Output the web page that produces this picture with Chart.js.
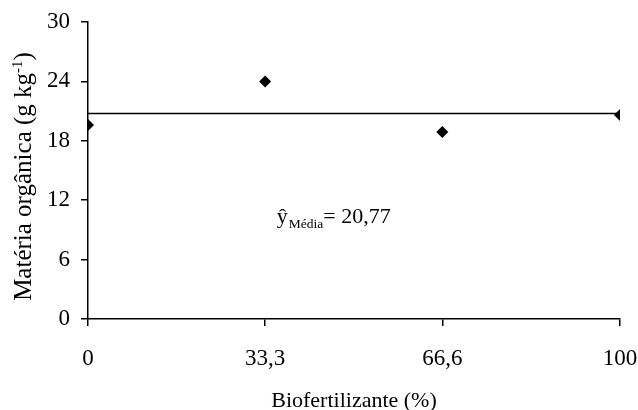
<!DOCTYPE html>
<html>
<head>
<meta charset="utf-8">
<script src="https://cdn.jsdelivr.net/npm/chart.js@4.4.1/dist/chart.umd.min.js"></script>
<style>
  html, body { margin: 0; padding: 0; background: #ffffff; }
  #wrap { width: 638px; height: 410px; }
</style>
</head>
<body>
<div id="wrap"><canvas id="c" width="638" height="410"></canvas></div>
<script>
// Biofertilizer doses (%) and measured organic matter (g kg-1)
const doses = [0, 33.3, 66.6, 100];
const organicMatter = [19.6, 24.0, 18.9, 20.6];
const meanValue = 20.77;
const xTicks = [0, 33.3, 66.6, 100];
const yTicks = [0, 6, 12, 18, 24, 30];

const FONT = "'Liberation Serif', 'Times New Roman', serif";

const points = doses.map((d, i) => ({ x: d, y: organicMatter[i] }));
const meanLine = [{ x: doses[0], y: meanValue }, { x: doses[doses.length - 1], y: meanValue }];

const fmt = v => String(v).replace('.', ',');

// Axis titles and the mean equation, drawn with sub/superscripts
const textPlugin = {
  id: 'textPlugin',
  afterDraw(chart) {
    const { ctx, chartArea, scales } = chart;
    ctx.save();
    ctx.fillStyle = '#000';
    ctx.textBaseline = 'alphabetic';

    // x title
    ctx.font = `22px ${FONT}`;
    ctx.textAlign = 'center';
    ctx.fillText('Biofertilizante (%)', (chartArea.left + chartArea.right) / 2, 407);

    // y title with superscript
    const main = 'Matéria orgânica (g kg';
    const sup = '-1';
    const close = ')';
    ctx.font = `25px ${FONT}`;
    const wMain = ctx.measureText(main).width;
    const wClose = ctx.measureText(close).width;
    ctx.font = `15px ${FONT}`;
    const wSup = ctx.measureText(sup).width;
    const total = wMain + wSup + wClose;
    ctx.translate(31, (chartArea.top + chartArea.bottom) / 2 + 6);
    ctx.rotate(-Math.PI / 2);
    ctx.textAlign = 'left';
    const x0 = -total / 2;
    ctx.font = `25px ${FONT}`;
    ctx.fillText(main, x0, 0);
    ctx.font = `15px ${FONT}`;
    ctx.fillText(sup, x0 + wMain, -9);
    ctx.font = `25px ${FONT}`;
    ctx.fillText(close, x0 + wMain + wSup, 0);
    ctx.setTransform(1, 0, 0, 1, 0, 0);

    // mean equation
    const ex = scales.x.getPixelForValue(35.5);
    const ey = scales.y.getPixelForValue(9.7);
    ctx.textAlign = 'left';
    ctx.font = `22px ${FONT}`;
    ctx.fillText('ŷ', ex, ey);
    const wy = ctx.measureText('ŷ').width;
    ctx.font = `13.5px ${FONT}`;
    ctx.fillText('Média', ex + wy + 1, ey + 5);
    const wm = ctx.measureText('Média').width;
    ctx.font = `22px ${FONT}`;
    ctx.fillText('= ' + fmt(meanValue), ex + wy + 1 + wm, ey);
    ctx.restore();
  }
};

new Chart(document.getElementById('c'), {
  type: 'scatter',
  data: {
    datasets: [
      {
        type: 'line',
        data: meanLine,
        borderColor: '#000',
        borderWidth: 1.5,
        pointRadius: 0,
        fill: false
      },
      {
        data: points,
        pointStyle: 'rectRot',
        pointRadius: 6,
        backgroundColor: '#000',
        borderColor: '#000',
        borderWidth: 0
      }
    ]
  },
  options: {
    responsive: false,
    animation: false,
    layout: { padding: { left: 0, right: 18, top: 22, bottom: 0 } },
    plugins: { legend: { display: false }, tooltip: { enabled: false } },
    scales: {
      x: {
        type: 'linear',
        min: 0,
        max: 100,
        afterBuildTicks: s => { s.ticks = xTicks.map(v => ({ value: v })); },
        afterFit: s => { s.height = 91; s.paddingLeft = 0; s.paddingRight = 0; },
        ticks: {
          font: { family: FONT, size: 23 },
          color: '#000',
          padding: 19,
          maxRotation: 0,
          autoSkip: false,
          callback: v => fmt(v)
        },
        grid: { drawOnChartArea: false, drawTicks: true, tickLength: 7, color: '#000', lineWidth: 1.5 },
        border: { display: true, color: '#000', width: 1.5 }
      },
      y: {
        type: 'linear',
        min: 0,
        max: 30,
        afterBuildTicks: s => { s.ticks = yTicks.map(v => ({ value: v })); },
        afterFit: s => { s.width = 88; s.paddingTop = 0; s.paddingBottom = 0; },
        ticks: {
          font: { family: FONT, size: 23 },
          color: '#000',
          padding: 11,
          callback: v => fmt(v)
        },
        grid: { drawOnChartArea: false, drawTicks: true, tickLength: 7, color: '#000', lineWidth: 1.5 },
        border: { display: true, color: '#000', width: 1.5 }
      }
    }
  },
  plugins: [textPlugin]
});
</script>
</body>
</html>
